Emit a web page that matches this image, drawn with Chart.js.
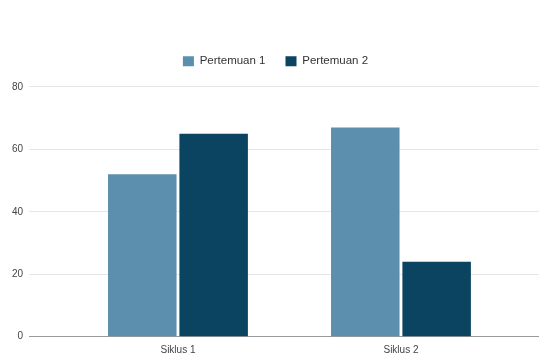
<!DOCTYPE html>
<html>
<head>
<meta charset="utf-8">
<script src="https://cdn.jsdelivr.net/npm/chart.js@4/dist/chart.umd.min.js"></script>
<style>
  html, body { margin: 0; padding: 0; background: #ffffff; }
  #wrap { width: 539px; height: 353px; position: relative; }
</style>
</head>
<body>
<div id="wrap"><canvas id="c" width="539" height="353"></canvas></div>
<script>
const categories = ['Siklus 1', 'Siklus 2'];
const seriesNames = ['Pertemuan 1', 'Pertemuan 2'];
const pertemuan1 = [52, 67];
const pertemuan2 = [65, 24];
const yTicks = [0, 20, 40, 60, 80];

const colors = ['#5b8fad', '#0a4461'];
const seriesValues = [pertemuan1, pertemuan2];

const legendGap = {
  id: 'legendGap',
  beforeInit(chart) {
    const lg = chart.legend;
    if (!lg) return;
    const fit = lg.fit;
    lg.fit = function () { fit.call(this); this.height += 10; };
  }
};

new Chart(document.getElementById('c'), {
  type: 'bar',
  data: {
    datasets: seriesNames.map((name, k) => ({
      label: name,
      data: seriesValues[k].map((v, i) => ({ x: i, y: v })),
      backgroundColor: colors[k],
      borderWidth: 0,
      categoryPercentage: 0.64,
      barPercentage: 0.96
    }))
  },
  options: {
    responsive: false,
    animation: false,
    devicePixelRatio: 1,
    layout: { padding: { top: 35.4, left: 12, right: 0, bottom: 0 } },
    plugins: {
      legend: {
        position: 'top',
        labels: {
          boxWidth: 11,
          boxHeight: 10,
          padding: 20,
          color: '#333333',
          font: { family: 'Liberation Sans, Arial, sans-serif', size: 11.5 }
        }
      },
      tooltip: { enabled: false }
    },
    scales: {
      x: {
        type: 'linear',
        offset: false,
        min: -0.668,
        max: 1.619,
        afterBuildTicks: s => { s.ticks = categories.map((c, i) => ({ value: i })); },
        afterFit: s => { s.height = 16.3; },
        grid: { display: false, drawTicks: false, offset: false },
        border: { display: true, color: '#9a9a9a', width: 1 },
        ticks: {
          autoSkip: false,
          maxRotation: 0,
          padding: 8,
          color: '#444444',
          font: { family: 'Liberation Sans, Arial, sans-serif', size: 10 },
          callback: v => categories[v]
        }
      },
      y: {
        min: 0,
        max: 80,
        afterBuildTicks: s => { s.ticks = yTicks.map(v => ({ value: v })); },
        afterFit: s => { s.width = 17; },
        grid: { color: '#e6e6e6', lineWidth: 1, drawTicks: false },
        border: { display: false },
        ticks: {
          padding: 6,
          color: '#444444',
          font: { family: 'Liberation Sans, Arial, sans-serif', size: 10 }
        }
      }
    }
  },
  plugins: [legendGap]
});
</script>
</body>
</html>
